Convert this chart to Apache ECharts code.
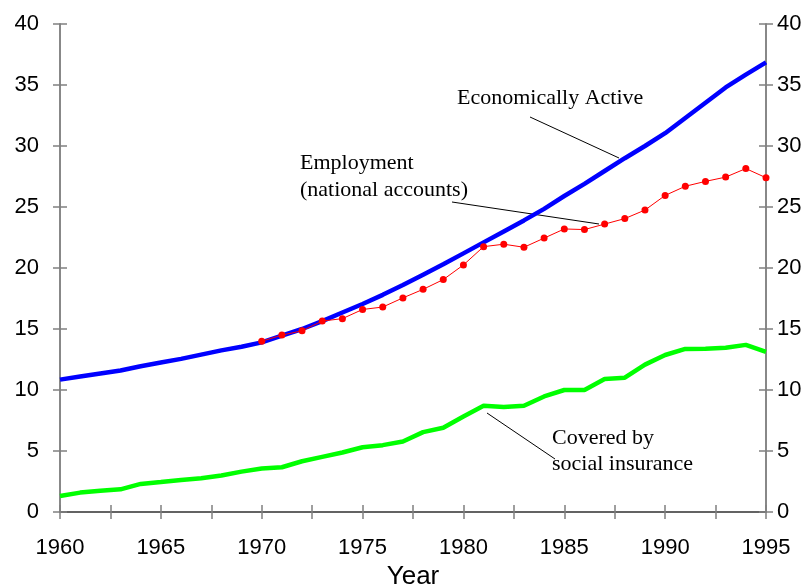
<!DOCTYPE html>
<html>
<head>
<meta charset="utf-8">
<script src="https://cdn.jsdelivr.net/npm/echarts@6/dist/echarts.min.js"></script>
<style>html,body{margin:0;padding:0;background:#fff;}#c{width:811px;height:587px;}</style>
</head>
<body>
<div id="c"></div>
<script>
var years = [1960,1961,1962,1963,1964,1965,1966,1967,1968,1969,1970,1971,1972,1973,1974,1975,1976,1977,1978,1979,1980,1981,1982,1983,1984,1985,1986,1987,1988,1989,1990,1991,1992,1993,1994,1995];
var economicallyActive = [10.85,11.1,11.35,11.6,11.95,12.25,12.55,12.9,13.25,13.55,13.9,14.45,15.0,15.65,16.35,17.05,17.8,18.6,19.45,20.3,21.2,22.1,23.0,23.9,24.85,25.9,26.9,27.95,29.0,30.0,31.05,32.3,33.55,34.8,35.85,36.85];
var employmentYears = [1970,1971,1972,1973,1974,1975,1976,1977,1978,1979,1980,1981,1982,1983,1984,1985,1986,1987,1988,1989,1990,1991,1992,1993,1994,1995];
var employment = [14.0,14.5,14.85,15.65,15.85,16.6,16.8,17.55,18.25,19.05,20.25,21.75,21.95,21.7,22.45,23.2,23.15,23.6,24.05,24.75,25.95,26.7,27.1,27.45,28.15,27.4];
var socialInsurance = [1.31,1.59,1.75,1.86,2.3,2.46,2.63,2.77,2.99,3.31,3.56,3.67,4.16,4.52,4.88,5.31,5.48,5.78,6.55,6.9,7.83,8.71,8.6,8.71,9.47,10.0,10.0,10.9,11.01,12.08,12.87,13.37,13.39,13.47,13.7,13.12];
var yTicks = [0,5,10,15,20,25,30,35,40];
var xLabelYears = [1960,1965,1970,1975,1980,1985,1990,1995];

function pairs(xs, ys){ return xs.map(function(x,i){ return [x, ys[i]]; }); }

var GREY = '#808080';
var sans = 'Liberation Sans, Arial, sans-serif';
var labelFont = { fontFamily: sans, fontSize: 22, color: '#000' };
var serif = 'Liberation Serif, Times New Roman, serif';

function yAxisDef(pos, showLabel, inside, margin){
  return {
    type: 'value', position: pos, min: yTicks[0], max: yTicks[yTicks.length-1], interval: 5,
    axisLine: { show: true, lineStyle: { color: GREY, width: 1.5 } },
    axisTick: { show: true, inside: inside, length: 7, lineStyle: { color: GREY, width: 1.5 } },
    axisLabel: Object.assign({ show: showLabel, margin: margin }, labelFont),
    splitLine: { show: false }
  };
}
function xAxisDef(showLabel, inside, extra){
  return Object.assign({
    type: 'value', position: 'bottom', min: years[0], max: years[years.length-1], interval: 2.5,
    axisLine: { show: true, onZero: false, lineStyle: { color: '#000', width: 1.5 } },
    axisTick: { show: true, inside: inside, length: 7, lineStyle: { color: GREY, width: 1.5 } },
    axisLabel: Object.assign({ show: showLabel, margin: 25,
      formatter: function(v){ return xLabelYears.indexOf(v) >= 0 ? String(v) : ''; } }, labelFont),
    splitLine: { show: false }
  }, extra || {});
}

var chart = echarts.init(document.getElementById('c'), null, { renderer: 'canvas' });
chart.setOption({
  animation: false,
  backgroundColor: '#fff',
  grid: { left: 60, right: 45, top: 24, bottom: 75, containLabel: false, outerBoundsMode: 'none' },
  xAxis: [
    xAxisDef(true, false, { name: 'Year', nameLocation: 'middle', nameGap: 51,
      nameTextStyle: { fontFamily: sans, fontSize: 26, color: '#000' } }),
    xAxisDef(false, true),
    { type: 'value', position: 'top', min: years[0], max: years[years.length-1],
      axisLine: { show: true, lineStyle: { color: GREY, width: 1.5 } },
      axisTick: { show: false }, axisLabel: { show: false }, splitLine: { show: false } }
  ],
  yAxis: [
    yAxisDef('left', true, false, 21),
    yAxisDef('left', false, true, 8),
    yAxisDef('right', true, false, 11),
    yAxisDef('right', false, true, 8)
  ],
  series: [
    { name: 'Covered by social insurance', type: 'line', data: pairs(years, socialInsurance),
      symbol: 'none', lineStyle: { color: '#00ff00', width: 4.5 }, z: 3 },
    { name: 'Economically Active', type: 'line', data: pairs(years, economicallyActive),
      symbol: 'none', lineStyle: { color: '#0000ff', width: 4.5 }, z: 4 },
    { name: 'Employment (national accounts)', type: 'line', data: pairs(employmentYears, employment),
      symbol: 'circle', symbolSize: 7, itemStyle: { color: '#ff0000' },
      lineStyle: { color: '#ff0000', width: 1 }, z: 5 }
  ],
  graphic: [
    { type: 'text', left: 457, top: 87, style: { text: 'Economically Active', font: '22px ' + serif, fill: '#000' } },
    { type: 'line', shape: { x1: 530, y1: 117, x2: 619, y2: 158 }, style: { stroke: '#000', lineWidth: 1 } },
    { type: 'text', left: 300, top: 150, style: { text: 'Employment\n(national accounts)', font: '22px ' + serif, fill: '#000', lineHeight: 27 } },
    { type: 'line', shape: { x1: 452, y1: 202, x2: 599, y2: 224 }, style: { stroke: '#000', lineWidth: 1 } },
    { type: 'text', left: 552, top: 425, style: { text: 'Covered by\nsocial insurance', font: '22px ' + serif, fill: '#000', lineHeight: 26 } },
    { type: 'line', shape: { x1: 487, y1: 413, x2: 555, y2: 459 }, style: { stroke: '#000', lineWidth: 1 } }
  ]
});
</script>
</body>
</html>
